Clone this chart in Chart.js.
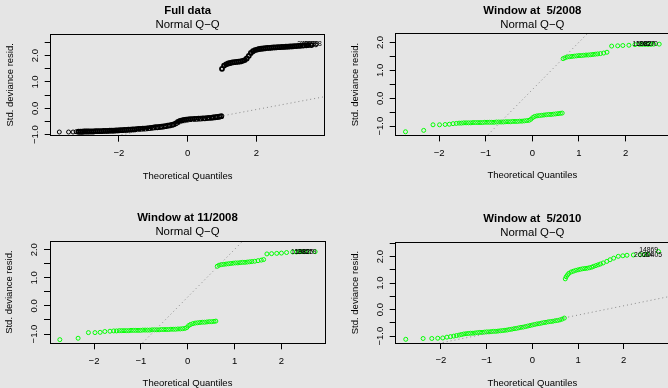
<!DOCTYPE html>
<html>
<head>
<meta charset="utf-8">
<script src="https://cdn.jsdelivr.net/npm/chart.js@4/dist/chart.umd.min.js"></script>
<style>
  html, body { margin: 0; padding: 0; width: 668px; height: 388px; overflow: hidden; background: #e5e5e5; }
  canvas { position: absolute; }
</style>
</head>
<body>
<canvas id="p1"></canvas>
<canvas id="p2"></canvas>
<canvas id="p3"></canvas>
<canvas id="p4"></canvas>
<script>
// Full data: theoretical quantiles vs std. deviance residuals
const fullX = [
  -3.73, -3.46, -3.33, -3.24, -3.17, -3.11, -3.06, -3.01, -2.96, -2.91,
  -2.86, -2.80, -2.74, -2.68, -2.62, -2.56, -2.50, -2.44, -2.38, -2.32,
  -2.26, -2.20, -2.14, -2.08, -2.02, -1.96, -1.90, -1.84, -1.78, -1.72,
  -1.66, -1.60, -1.54, -1.48, -1.42, -1.36, -1.30, -1.24, -1.18, -1.12,
  -1.06, -1.00, -0.94, -0.88, -0.82, -0.76, -0.70, -0.64, -0.58, -0.52,
  -0.46, -0.40, -0.34, -0.28, -0.22, -0.16, -0.10, -0.04, 0.02, 0.08,
  0.14, 0.20, 0.26, 0.32, 0.38, 0.44, 0.50, 0.56, 0.62, 0.68,
  0.74, 0.80, 0.86, 0.92, 0.98,
  1.00, 1.06, 1.12, 1.18, 1.24, 1.30, 1.36, 1.42, 1.48, 1.54,
  1.60, 1.66, 1.72, 1.78, 1.84, 1.90, 1.96, 2.02, 2.08, 2.14,
  2.20, 2.26, 2.32, 2.38, 2.44, 2.50, 2.56, 2.62, 2.68, 2.74,
  2.80, 2.86, 2.92, 2.98, 3.04, 3.10, 3.16, 3.22, 3.28, 3.36,
  3.45, 3.51, 3.60, 3.73
];
const fullY = [
  -0.90, -0.90, -0.90, -0.89, -0.89, -0.89, -0.89, -0.88, -0.88, -0.88,
  -0.88, -0.88, -0.88, -0.87, -0.87, -0.87, -0.87, -0.86, -0.86, -0.86,
  -0.85, -0.85, -0.85, -0.84, -0.84, -0.83, -0.83, -0.82, -0.82, -0.81,
  -0.81, -0.80, -0.80, -0.79, -0.78, -0.78, -0.77, -0.77, -0.76, -0.75,
  -0.74, -0.73, -0.72, -0.72, -0.71, -0.70, -0.69, -0.68, -0.66, -0.65,
  -0.63, -0.61, -0.57, -0.52, -0.48, -0.46, -0.44, -0.43, -0.42, -0.41,
  -0.41, -0.40, -0.40, -0.39, -0.39, -0.38, -0.38, -0.37, -0.36, -0.36,
  -0.35, -0.34, -0.33, -0.32, -0.30,
  1.50, 1.62, 1.67, 1.70, 1.72, 1.74, 1.75, 1.76, 1.77, 1.78,
  1.80, 1.83, 1.89, 1.99, 2.10, 2.17, 2.21, 2.23, 2.25, 2.26,
  2.27, 2.28, 2.29, 2.29, 2.30, 2.31, 2.31, 2.32, 2.32, 2.33,
  2.33, 2.34, 2.34, 2.35, 2.35, 2.36, 2.36, 2.37, 2.37, 2.38,
  2.39, 2.40, 2.40, 2.41
];
const fullXLim = [-3.98, 3.98];
const fullYLim = [-1.04, 2.82];
const fullQQLine = [-0.535, 0.245];          // intercept, slope
const fullIds = ['34229', '18929', '40928'];
const fullIdX = [3.74, 3.82, 3.90];
const fullIdY = [2.42, 2.43, 2.43];

// Window at 5/2008
const may08X = [
  -2.72, -2.33, -2.13, -1.99, -1.87, -1.78, -1.70, -1.63, -1.57, -1.52,
  -1.47, -1.42, -1.37, -1.32, -1.27, -1.22, -1.17, -1.12, -1.07, -1.02,
  -0.97, -0.92, -0.87, -0.82, -0.77, -0.72, -0.67, -0.62, -0.57, -0.52,
  -0.47, -0.42, -0.37, -0.32, -0.27, -0.22, -0.17, -0.12, -0.07,
  -0.03, 0.01, 0.05, 0.10, 0.15, 0.20, 0.25, 0.30, 0.35, 0.40,
  0.45, 0.50, 0.55, 0.60, 0.64,
  0.66, 0.70, 0.75, 0.80, 0.85, 0.90, 0.95, 1.00, 1.05, 1.10,
  1.15, 1.20, 1.25, 1.30, 1.35, 1.40, 1.46, 1.53, 1.60,
  1.70, 1.83, 1.94, 2.07, 2.20, 2.30, 2.36, 2.42, 2.48, 2.54, 2.60, 2.72
];
const may08Y = [
  -1.20, -1.15, -0.95, -0.95, -0.94, -0.93, -0.91, -0.90, -0.89, -0.89,
  -0.88, -0.88, -0.88, -0.88, -0.87, -0.87, -0.87, -0.87, -0.87, -0.86,
  -0.86, -0.86, -0.86, -0.86, -0.85, -0.85, -0.85, -0.85, -0.84, -0.84,
  -0.84, -0.83, -0.83, -0.83, -0.82, -0.82, -0.81, -0.80, -0.79,
  -0.75, -0.69, -0.65, -0.63, -0.62, -0.61, -0.60, -0.59, -0.58, -0.58,
  -0.57, -0.56, -0.55, -0.54, -0.53,
  1.42, 1.45, 1.48, 1.49, 1.50, 1.51, 1.52, 1.53, 1.53, 1.54,
  1.55, 1.55, 1.56, 1.57, 1.58, 1.59, 1.60, 1.62, 1.65,
  1.87, 1.88, 1.89, 1.90, 1.92, 1.93, 1.93, 1.93, 1.93, 1.93, 1.94, 1.94
];
const may08XLim = [-2.93, 2.93];
const may08YLim = [-1.33, 2.31];
const may08QQLine = [0.31, 1.70];
const may08Ids = ['15982', '19827', '20570'];
const may08IdX = [2.55, 2.63, 2.69];
const may08IdY = [1.94, 1.94, 1.94];

// Window at 11/2008
const nov08X = [
  -2.73, -2.34, -2.12, -1.98, -1.87, -1.77, -1.66, -1.58, -1.52,
  -1.46, -1.41, -1.36, -1.31, -1.26, -1.21, -1.16, -1.11, -1.06, -1.01,
  -0.96, -0.91, -0.86, -0.81, -0.76, -0.71, -0.66, -0.61, -0.56, -0.51,
  -0.46, -0.41, -0.36, -0.31, -0.26, -0.21, -0.16, -0.11, -0.06, -0.02,
  0.02, 0.06, 0.11, 0.16, 0.21, 0.26, 0.31, 0.36, 0.41, 0.46, 0.51, 0.56, 0.60,
  0.63, 0.67, 0.72, 0.77, 0.82, 0.87, 0.92, 0.97, 1.02, 1.07,
  1.12, 1.17, 1.22, 1.27, 1.32, 1.37, 1.43, 1.50, 1.57, 1.62,
  1.69, 1.79, 1.90, 2.00, 2.11, 2.24, 2.32, 2.38, 2.44, 2.50, 2.57, 2.72
];
const nov08Y = [
  -1.20, -1.15, -0.95, -0.95, -0.94, -0.91, -0.90, -0.89, -0.89,
  -0.88, -0.88, -0.88, -0.88, -0.88, -0.87, -0.87, -0.87, -0.87, -0.87,
  -0.86, -0.86, -0.86, -0.86, -0.85, -0.85, -0.85, -0.85, -0.84, -0.84,
  -0.84, -0.84, -0.83, -0.83, -0.83, -0.82, -0.82, -0.81, -0.80, -0.77,
  -0.70, -0.66, -0.63, -0.61, -0.60, -0.59, -0.58, -0.58, -0.57, -0.56, -0.56, -0.55, -0.54,
  1.41, 1.45, 1.47, 1.48, 1.49, 1.50, 1.51, 1.52, 1.53, 1.53,
  1.54, 1.55, 1.55, 1.56, 1.57, 1.58, 1.59, 1.61, 1.63, 1.65,
  1.85, 1.86, 1.87, 1.88, 1.90, 1.92, 1.92, 1.93, 1.93, 1.93, 1.93, 1.93
];
const nov08XLim = [-2.94, 2.93];
const nov08YLim = [-1.33, 2.31];
const nov08QQLine = [0.317, 1.695];
const nov08Ids = ['15982', '19825', '20579'];
const nov08IdX = [2.61, 2.68, 2.75];
const nov08IdY = [1.93, 1.93, 1.93];

// Window at 5/2010
const may10X = [
  -2.77, -2.39, -2.20, -2.07, -1.96, -1.87, -1.79, -1.72, -1.66, -1.60, -1.55,
  -1.50, -1.45, -1.40, -1.35, -1.30, -1.25, -1.20, -1.15, -1.10, -1.05,
  -1.00, -0.95, -0.90, -0.85, -0.80, -0.75, -0.70, -0.65, -0.60, -0.55,
  -0.50, -0.45, -0.40, -0.35, -0.30, -0.25, -0.20, -0.15, -0.10, -0.05,
  0.00, 0.05, 0.10, 0.15, 0.20, 0.25, 0.30, 0.35, 0.40, 0.45,
  0.50, 0.55, 0.60, 0.65, 0.70,
  0.72, 0.74, 0.77, 0.80, 0.85, 0.90, 0.95, 1.00, 1.05, 1.10,
  1.15, 1.20, 1.25, 1.30, 1.34, 1.39, 1.44, 1.49, 1.55, 1.63,
  1.70, 1.78, 1.88, 1.98, 2.07, 2.21, 2.36, 2.45, 2.52, 2.76
];
const may10Y = [
  -1.12, -1.09, -1.09, -1.08, -1.07, -1.04, -1.02, -1.00, -0.98, -0.96, -0.94,
  -0.92, -0.91, -0.90, -0.89, -0.89, -0.88, -0.87, -0.86, -0.86, -0.85,
  -0.84, -0.84, -0.83, -0.82, -0.82, -0.81, -0.80, -0.79, -0.78, -0.77,
  -0.75, -0.74, -0.72, -0.71, -0.69, -0.67, -0.66, -0.64, -0.62, -0.60,
  -0.58, -0.56, -0.54, -0.53, -0.51, -0.49, -0.48, -0.46, -0.45, -0.44,
  -0.42, -0.41, -0.39, -0.36, -0.32,
  1.16, 1.24, 1.31, 1.37, 1.42, 1.45, 1.48, 1.50, 1.52, 1.54,
  1.55, 1.56, 1.58, 1.60, 1.63, 1.66, 1.69, 1.72, 1.76, 1.82,
  1.88, 1.94, 2.01, 2.03, 2.05, 2.06, 2.07, 2.08, 2.09, 2.19
];
const may10XLim = [-2.99, 2.99];
const may10YLim = [-1.26, 2.55];
const may10QQLine = [-0.556, 0.35];
const may10Ids = ['14869', '26664', '20405'];
const may10IdX = [2.75, 2.64, 2.84];
const may10IdY = [2.24, 2.07, 2.07];

const FONT = '"Liberation Sans", Arial, Helvetica, sans-serif';
const minus = s => String(s).replace('-', '\u2212');

// titles, plot box and point ids, R style
const qqDecor = {
  id: 'qqDecor',
  afterDatasetsDraw(chart, args, o) {
    const { ctx, chartArea: a, scales: { x, y } } = chart;
    ctx.save();
    ctx.fillStyle = '#000';
    ctx.font = '6.8px ' + FONT;
    ctx.textAlign = 'right';
    ctx.textBaseline = 'middle';
    o.ids.forEach((t, i) => {
      ctx.fillText(t, x.getPixelForValue(o.idX[i]), y.getPixelForValue(o.idY[i]));
    });

    const l = Math.round(a.left - 0.5) + 0.5, r = Math.round(a.right - 0.5) + 0.5;
    const t = Math.round(a.top - 0.5) + 0.5, b = Math.round(a.bottom - 0.5) + 0.5;
    ctx.strokeStyle = '#000';
    ctx.lineWidth = 1;
    ctx.strokeRect(l, t, r - l, b - t);

    const cx = (a.left + a.right) / 2;
    ctx.textAlign = 'center';
    ctx.font = 'bold 11.4px ' + FONT;
    ctx.fillText(o.title, cx, a.top - 22.7);
    ctx.font = '11.4px ' + FONT;
    ctx.fillText('Normal Q\u2212Q', cx, a.top - 8.7);
    ctx.restore();
  }
};

function qqChart(id, frame, p) {
  const el = document.getElementById(id);
  el.style.left = frame.left + 'px';
  el.style.top = frame.top + 'px';
  el.width = frame.w;
  el.height = frame.h;

  const pts = p.x.map((v, i) => ({ x: v, y: p.y[i] }));
  const line = p.xlim.map(v => ({ x: v, y: p.line[0] + p.line[1] * v }));
  const tickFont = { family: FONT, size: 9.5 };
  // overplotted stretch of points drawn with a heavier ring so it reads as a solid band
  const ring = c => (p.heavy && c.dataIndex >= p.heavy[0] && c.dataIndex <= p.heavy[1]) ? 1.8 : 1;

  return new Chart(el, {
    type: 'scatter',
    data: {
      datasets: [
        {
          type: 'line',
          data: line,
          borderColor: '#8a8a8a',
          borderWidth: 1,
          borderDash: [1, 3],
          pointRadius: 0,
          fill: false
        },
        {
          data: pts,
          pointStyle: 'circle',
          pointRadius: 2,
          pointBorderWidth: ring,
          pointBorderColor: p.color,
          pointBackgroundColor: 'rgba(0,0,0,0)',
          borderColor: p.color
        }
      ]
    },
    options: {
      responsive: false,
      animation: false,
      events: [],
      devicePixelRatio: 1,
      layout: { padding: frame.pad },
      plugins: {
        legend: { display: false },
        tooltip: { enabled: false },
        qqDecor: { title: p.title, ids: p.ids, idX: p.idX, idY: p.idY }
      },
      scales: {
        x: {
          type: 'linear',
          min: p.xlim[0],
          max: p.xlim[1],
          afterFit: s => { s.height = 46; },
          border: { display: false },
          grid: { drawOnChartArea: false, drawTicks: true, tickLength: 6, color: '#000', lineWidth: 1 },
          ticks: {
            stepSize: p.xstep, includeBounds: false, autoSkip: false, maxRotation: 0,
            padding: 6, color: '#000', font: tickFont,
            callback: v => minus(v)
          },
          title: { display: true, text: 'Theoretical Quantiles', color: '#000', font: tickFont, padding: 0 }
        },
        y: {
          type: 'linear',
          min: p.ylim[0],
          max: p.ylim[1],
          afterFit: s => { s.width = 46; },
          border: { display: false },
          grid: { drawOnChartArea: false, drawTicks: true, tickLength: 6, color: '#000', lineWidth: 1 },
          ticks: {
            stepSize: 0.5, includeBounds: false, autoSkip: false,
            minRotation: 90, maxRotation: 90, crossAlign: 'center',
            padding: 0, color: '#000', font: tickFont,
            callback: v => Math.abs(v - Math.round(v)) < 1e-6 ? minus(v.toFixed(1)) : ''
          },
          title: { display: true, text: 'Std. deviance resid.', color: '#000', font: tickFont, padding: 0 }
        }
      }
    },
    plugins: [qqDecor]
  });
}

qqChart('p1', { left: 0, top: 0, w: 334, h: 194, pad: { left: 4.7, right: 9.5, top: 34, bottom: 12.3 } }, {
  title: 'Full data', x: fullX, y: fullY, xlim: fullXLim, ylim: fullYLim, xstep: 2,
  line: fullQQLine, color: '#000000', ids: fullIds, idX: fullIdX, idY: fullIdY, heavy: [4, 117]
});
qqChart('p2', { left: 334, top: 0, w: 340, h: 194, pad: { left: 15.7, right: 3, top: 33.8, bottom: 12.6 } }, {
  title: 'Window at  5/2008', x: may08X, y: may08Y, xlim: may08XLim, ylim: may08YLim, xstep: 1,
  line: may08QQLine, color: '#00ff00', ids: may08Ids, idX: may08IdX, idY: may08IdY
});
qqChart('p3', { left: 0, top: 194, w: 334, h: 200, pad: { left: 4, right: 9, top: 47, bottom: 4.7 } }, {
  title: 'Window at 11/2008', x: nov08X, y: nov08Y, xlim: nov08XLim, ylim: nov08YLim, xstep: 1,
  line: nov08QQLine, color: '#00ff00', ids: nov08Ids, idX: nov08IdX, idY: nov08IdY
});
qqChart('p4', { left: 334, top: 194, w: 340, h: 200, pad: { left: 15.7, right: 3.2, top: 48, bottom: 5 } }, {
  title: 'Window at  5/2010', x: may10X, y: may10Y, xlim: may10XLim, ylim: may10YLim, xstep: 1,
  line: may10QQLine, color: '#00ff00', ids: may10Ids, idX: may10IdX, idY: may10IdY
});
</script>
</body>
</html>
